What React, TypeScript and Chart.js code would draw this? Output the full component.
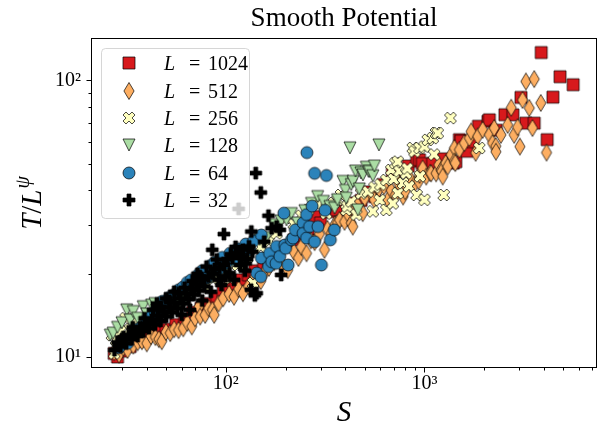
import React, { useEffect, useRef } from "react";
import { Chart, registerables } from "chart.js";

Chart.register(...registerables);

const FONT = "'Liberation Serif', 'Times New Roman', serif";

const titleText = "Smooth Potential";
const xTitle = "S";
const legendLabels = ["1024", "512", "256", "128", "64", "32"];
const fillColors = ["#d7191c", "#fdae61", "#ffffbf", "#abdda4", "#2b83ba", "#000000"];
const markerKinds = ["s", "d", "X", "v", "o", "P"];

// [S, T/L^psi]
const L1024: number[][] = [
  [27.4, 10.3], [28.5, 10.0], [30, 10.5], [33, 10.9], [36, 11.4], [40, 11.9], [45, 12.3], [50, 12.6],
  [56, 13.1], [62, 13.7], [68, 14.5], [75, 15.0], [82, 15.6], [90, 16.3], [97, 17.2], [104.5, 17.7],
  [112, 18.3], [120, 19.0], [130, 19.8], [140, 20.5], [155, 21.3], [165, 22.0], [180, 23.4], [200, 25.0],
  [220, 26.5], [240, 27.5], [260, 29.0], [280, 32.2], [300, 30.5], [330, 33.5], [360, 34.0], [409, 31.3],
  [440, 36.0], [480, 36.8], [520, 39.5], [560, 38.0], [620, 42.0], [690, 46.0], [707, 46.1], [760, 47.5],
  [830, 49.0], [914, 51.0], [944, 51.6], [976, 50.0], [1100, 50.0], [1250, 52.0], [1399, 50.2], [1440, 50.8],
  [1500, 61.0], [1529, 60.3], [1636, 55.4], [1750, 60.0], [1871, 68.2], [2089, 71.1], [2123, 72.0],
  [2300, 66.0], [2542, 75.1], [2790, 75.0], [3062, 86.7], [3243, 70.0], [3572, 70.0], [3873, 126],
  [4150, 61.0], [4437, 86.9], [4819, 103], [5610, 96.4],
];
const L512: number[][] = [
  [27.4, 10.4], [29, 10.2], [30.5, 10.8], [32, 10.6], [34.2, 11.0], [36, 11.3], [37.8, 11.4], [40, 11.2],
  [42, 11.9], [44.2, 11.8], [46, 11.6], [47.6, 11.4], [50, 12.3], [52.5, 12.2], [55, 12.6], [57.8, 12.5],
  [61.1, 12.7], [64, 13.3], [67.4, 12.9], [70, 13.8], [73.2, 15.2], [74.3, 14.0], [78.7, 14.2], [82, 15.0],
  [85.7, 14.8], [87.4, 14.2], [92, 15.6], [97, 16.3], [104, 16.9], [110, 16.5], [116, 17.6], [122, 17.0],
  [130, 18.0], [140, 19.5], [150, 18.8], [158, 20.4], [165, 21.0], [175, 22.0], [180, 22.5], [192, 21.6],
  [205, 20.6], [220, 24.0], [232, 22.8], [240, 25.0], [255, 23.7], [268, 26.4], [280, 26.0], [296, 27.8],
  [314, 24.4], [325, 29.0], [340, 28.0], [355, 30.2], [365, 30.5], [374, 31.3], [396, 30.8], [410, 33.0],
  [428, 30.5], [436, 29.6], [437, 34.5], [460, 35.5], [489, 33.1], [500, 37.5], [540, 39.0], [559, 37.0],
  [590, 40.5], [625, 41.4], [654, 37.0], [680, 40.0], [714, 38.5], [740, 42.5], [781, 38.0], [800, 39.7],
  [850, 44.0], [890, 42.0], [935, 43.2], [945, 45.5], [980, 48.0], [1021, 44.9], [1069, 46.3], [1081, 46.1],
  [1145, 46.1], [1180, 49.5], [1213, 47.4], [1222, 46.9], [1236, 44.9], [1279, 50.2], [1310, 48.8],
  [1363, 53.8], [1416, 56.9], [1416, 50.9], [1430, 50.2], [1500, 56.1], [1589, 59.3], [1684, 61.8],
  [1718, 65.3], [1811, 54.7], [1854, 62.7], [1965, 66.2], [2123, 63.5], [2203, 59.3], [2247, 67.2],
  [2287, 57.8], [2291, 55.2], [2428, 63.5], [2624, 69.0], [2735, 79.6], [2831, 63.5], [2945, 67.7],
  [3025, 57.6], [3119, 84.9], [3243, 99.0], [3373, 79.4], [3499, 67.2], [3572, 101], [3855, 82.8], [4121, 54.8],
];
const L256: number[][] = [
  [26.7, 12.0], [27.4, 10.3], [28, 11.5], [29.5, 12.4], [31.3, 13.8], [33, 12.6], [36, 13.2], [40, 13.3],
  [45, 14.2], [50, 14.8], [56, 15.6], [63, 16.6], [70, 17.6], [78, 18.0], [86, 19.2], [95, 19.8], [105, 19.2],
  [115, 21.5], [128, 22.8], [137, 18.5], [150, 25.0], [165, 26.2], [180, 28.0], [200, 31.8], [220, 30.2],
  [240, 32.4], [260, 34.0], [290, 35.5], [320, 33.0], [350, 36.0], [365, 37.0], [380, 38.5], [404, 34.0],
  [409, 35.0], [428, 36.5], [454, 32.7], [480, 39.0], [519, 39.6], [550, 33.6], [560, 41.0], [595, 36.9],
  [600, 42.0], [643, 43.6], [643, 34.0], [681, 47.4], [693, 35.9], [700, 44.0], [714, 50.2], [734, 39.1],
  [734, 50.8], [747, 46.9], [780, 42.5], [809, 46.1], [820, 48.0], [836, 41.4], [874, 56.9], [891, 55.3],
  [914, 38.5], [944, 56.9], [950, 45.0], [1000, 57.6], [1000, 37.0], [1040, 60.9], [1102, 61.8],
  [1119, 53.9], [1143, 64.5], [1167, 64.4], [1251, 38.5], [1352, 73.0], [1888, 56.9],
];
const L128: number[][] = [
  [26.2, 12.0], [27.1, 12.2], [28.5, 12.8], [30, 13.3], [31.7, 14.8], [33, 13.6], [34.2, 14.6], [36, 13.8],
  [38.4, 15.2], [40, 14.3], [42.3, 15.4], [44, 15.6], [47, 14.2], [50, 14.3], [54, 15.0], [58, 15.6],
  [62, 16.0], [67, 16.8], [72, 17.8], [78, 18.5], [85, 19.4], [92, 20.4], [100, 21.0], [108, 22.2],
  [116, 23.0], [125, 24.0], [135, 25.2], [148, 26.6], [160, 27.0], [175, 30.1], [190, 31.0], [202, 31.3],
  [214, 33.0], [230, 30.5], [250, 33.8], [270, 35.9], [290, 38.0], [310, 36.5], [334, 35.0], [353, 34.5],
  [365, 37.0], [389, 43.1], [400, 40.0], [404, 37.5], [422, 57.0], [428, 42.0], [437, 43.1], [450, 47.0],
  [462, 34.0], [470, 40.5], [479, 46.3], [490, 45.5], [510, 48.5], [523, 46.9], [529, 46.8], [550, 45.2],
  [560, 49.0], [590, 58.4],
];
const L64: number[][] = [
  [29, 10.8], [30.5, 11.4], [32, 11.2], [34, 12.1], [36, 12.6], [38, 12.9], [40, 13.6], [42, 14.0],
  [44, 14.6], [46, 15.0], [48, 15.9], [50, 15.4], [52, 16.4], [55, 16.8], [58, 17.5], [61, 17.9],
  [64, 18.6], [67, 19.0], [70, 18.2], [73, 19.9], [76, 20.5], [80, 19.3], [84, 21.4], [88, 22.0],
  [92, 20.7], [96, 22.9], [100, 21.8], [105, 23.7], [110, 22.6], [115, 24.6], [120, 23.3], [126, 25.6],
  [132, 24.4], [138, 26.3], [143, 20.1], [150, 19.5], [151, 22.8], [151, 27.6], [164, 21.2], [166, 23.7],
  [170, 22.1], [179, 21.8], [180, 25.1], [187, 23.1], [196, 33.1], [198, 25.4], [200, 24.7], [206, 21.5],
  [214, 26.5], [218, 26.9], [224, 28.8], [245, 30.5], [245, 28.0], [255, 32.7], [255, 26.9], [256, 54.8],
  [264, 29.6], [272, 35.1], [280, 46.1], [280, 26.1], [291, 29.6], [303, 21.5], [316, 33.9], [321, 45.3],
  [336, 26.5], [352, 28.8],
];
const L32: number[][] = [
  [27.5, 10.6], [28.5, 11.3], [29.5, 10.9], [30, 11.6], [30.5, 11.8], [31.5, 11.2], [32.5, 12.0], [33.5, 11.6],
  [34, 12.8], [35, 12.3], [36, 11.9], [37, 12.8], [38.5, 12.4], [39, 13.8], [40, 13.2], [41, 12.7],
  [42.5, 13.6], [43, 14.8], [44, 13.1], [45, 15.6], [45.5, 14.1], [47, 13.5], [47, 15.2], [48.5, 14.6],
  [50, 14.0], [50, 16.3], [52, 15.1], [52, 16.0], [53.5, 14.5], [55, 15.7], [55, 17.2], [57, 15.0],
  [58, 17.0], [59, 16.3], [60, 14.2], [61, 15.6], [62, 17.8], [63, 17.0], [65, 16.2], [66, 14.8],
  [67, 17.6], [68, 18.8], [69, 16.8], [71, 18.3], [72, 20.0], [73, 17.4], [74, 19.6], [75, 19.1],
  [76, 16.0], [78, 18.0], [80, 21.2], [82, 19.5], [84, 17.2], [85.5, 24.4], [86, 20.0], [88, 20.8],
  [90, 22.5], [92, 19.0], [93, 21.0], [95, 18.2], [97.8, 27.8], [98, 21.5], [100, 19.6], [102, 22.6],
  [104.5, 20.1], [106, 23.5], [108, 22.8], [110, 19.0], [112, 25.0], [114, 23.7], [116, 34.3], [118, 21.5],
  [120, 23.0], [122, 24.4], [125, 20.5], [126, 21.8], [128, 22.6], [131, 25.1], [134, 17.5], [134.5, 28.4],
  [136, 24.0], [140, 16.7], [141.5, 46.2], [143, 17.0], [150, 39.3], [156, 26.1], [164, 32.4], [170, 29.2],
  [180, 29.6], [187, 28.8], [190, 19.8],
];
const seriesData = [L1024, L512, L256, L128, L64, L32];

const xTickValues = [30, 40, 50, 60, 70, 80, 90, 100, 200, 300, 400, 500, 600, 700, 800, 900, 1000, 2000, 3000, 4000, 5000, 6000, 7000];
const yTickValues = [10, 20, 30, 40, 50, 60, 70, 80, 90, 100];
const xMin = 21.2, xMax = 7310;
const yMin = 9.2, yMax = 141;

const SUP = ["\u2070", "\u00b9", "\u00b2", "\u00b3", "\u2074"];
function isPow10(v: number) {
  const l = Math.log10(v);
  return Math.abs(l - Math.round(l)) < 1e-6;
}
function powLabel(v: number) {
  return isPow10(v) ? "10" + SUP[Math.round(Math.log10(v))] : "";
}

const MS = 12;
function makeMarker(kind: string, fill: string): HTMLCanvasElement {
  const size = 22;
  const c = document.createElement("canvas");
  c.width = size;
  c.height = size;
  const g = c.getContext("2d")!;
  const cx = size / 2, cy = size / 2, h = MS / 2;
  g.beginPath();
  const poly = (pts: number[][]) => {
    pts.forEach((p, i) => (i === 0 ? g.moveTo(cx + p[0], cy + p[1]) : g.lineTo(cx + p[0], cy + p[1])));
    g.closePath();
  };
  if (kind === "s") g.rect(cx - h, cy - h, MS, MS);
  else if (kind === "d") {
    const hh = MS * 0.7071, hw = hh * 0.6;
    poly([[0, -hh], [hw, 0], [0, hh], [-hw, 0]]);
  } else if (kind === "o") g.arc(cx, cy, h, 0, Math.PI * 2);
  else if (kind === "v") poly([[-h, -h], [h, -h], [0, h]]);
  else if (kind === "X") {
    const u = [[0.25, 0], [0.5, 0.25], [0.75, 0], [1, 0.25], [0.75, 0.5], [1, 0.75], [0.75, 1], [0.5, 0.75], [0.25, 1], [0, 0.75], [0.25, 0.5], [0, 0.25]];
    poly(u.map((p) => [(p[0] - 0.5) * MS, (p[1] - 0.5) * MS]));
  } else if (kind === "P") {
    const u = [[-1, -3], [1, -3], [1, -1], [3, -1], [3, 1], [1, 1], [1, 3], [-1, 3], [-1, 1], [-3, 1], [-3, -1], [-1, -1]];
    poly(u.map((p) => [(p[0] / 6) * MS, (p[1] / 6) * MS]));
  }
  g.fillStyle = fill;
  g.fill();
  g.lineWidth = 0.7;
  g.strokeStyle = "#000";
  g.stroke();
  return c;
}

export default function App() {
  const ref = useRef<HTMLCanvasElement | null>(null);
  useEffect(() => {
    if (!ref.current) return;
    const markers = markerKinds.map((k, i) => makeMarker(k, fillColors[i]));

    const decorPlugin = {
      id: "decor",
      afterDatasetsDraw(chart: any) {
        const ctx = chart.ctx as CanvasRenderingContext2D;
        const a = chart.chartArea;
        const xs = chart.scales.x, ys = chart.scales.y;
        ctx.save();
        // legend box
        const bx = 101.5, by = 48.5, bw = 148, bh = 170, r = 4;
        ctx.beginPath();
        ctx.moveTo(bx + r, by);
        ctx.lineTo(bx + bw - r, by);
        ctx.arcTo(bx + bw, by, bx + bw, by + r, r);
        ctx.lineTo(bx + bw, by + bh - r);
        ctx.arcTo(bx + bw, by + bh, bx + bw - r, by + bh, r);
        ctx.lineTo(bx + r, by + bh);
        ctx.arcTo(bx, by + bh, bx, by + bh - r, r);
        ctx.lineTo(bx, by + r);
        ctx.arcTo(bx, by, bx + r, by, r);
        ctx.closePath();
        ctx.fillStyle = "rgba(255,255,255,0.8)";
        ctx.fill();
        ctx.strokeStyle = "rgba(204,204,204,0.8)";
        ctx.lineWidth = 1;
        ctx.stroke();
        for (let i = 0; i < legendLabels.length; i++) {
          const ry = 63.3 + i * 27.35;
          const m = markers[i];
          ctx.drawImage(m, Math.round(129 - m.width / 2), Math.round(ry - m.height / 2));
          ctx.fillStyle = "#000";
          ctx.textBaseline = "alphabetic";
          ctx.textAlign = "left";
          ctx.font = `italic 20px ${FONT}`;
          ctx.fillText("L", 164, ry + 7);
          ctx.font = `20px ${FONT}`;
          ctx.fillText("=", 189, ry + 7);
          ctx.fillText(legendLabels[i], 208, ry + 7);
        }
        // frame
        ctx.strokeStyle = "#000";
        ctx.lineWidth = 1;
        const L = Math.round(a.left) - 0.5, R = Math.round(a.right) + 0.5;
        const T = Math.round(a.top) - 0.5, B = Math.round(a.bottom) + 0.5;
        ctx.strokeRect(L, T, R - L, B - T);
        // ticks
        ctx.beginPath();
        xTickValues.forEach((v) => {
          const px = Math.round(xs.getPixelForValue(v)) + 0.5;
          const len = isPow10(v) ? 5 : 3;
          ctx.moveTo(px, B);
          ctx.lineTo(px, B + len);
        });
        yTickValues.forEach((v) => {
          const py = Math.round(ys.getPixelForValue(v)) + 0.5;
          const len = isPow10(v) ? 5 : 3;
          ctx.moveTo(L, py);
          ctx.lineTo(L - len, py);
        });
        ctx.stroke();
        // y axis label  T/L^psi
        ctx.translate(31, 203);
        ctx.rotate(-Math.PI / 2);
        ctx.fillStyle = "#000";
        ctx.textBaseline = "alphabetic";
        const big = `italic 29px ${FONT}`, up = `29px ${FONT}`, small = `italic 20px ${FONT}`;
        ctx.font = big;
        const wT = ctx.measureText("T").width;
        const wL = ctx.measureText("L").width;
        ctx.font = up;
        const wS = ctx.measureText("/").width;
        ctx.font = small;
        const wP = ctx.measureText("\u03c8").width;
        const total = wT + wS + wL + 1 + wP;
        let x = -total / 2;
        const base = 10;
        ctx.font = big;
        ctx.fillText("T", x, base);
        x += wT;
        ctx.font = up;
        ctx.fillText("/", x, base);
        x += wS;
        ctx.font = big;
        ctx.fillText("L", x, base);
        x += wL + 1;
        ctx.font = small;
        ctx.fillText("\u03c8", x, base - 12);
        ctx.restore();
      },
    };

    const datasets = seriesData.map((d, i) => ({
      label: "L = " + legendLabels[i],
      data: d.map((p) => ({ x: p[0], y: p[1] })),
      pointStyle: markers[i] as any,
      pointRadius: 6,
      showLine: false,
      order: seriesData.length - i,
    }));

    const tickFont = { family: FONT, size: 20 };
    const chart = new Chart(ref.current, {
      type: "scatter",
      data: { datasets },
      options: {
        animation: false,
        responsive: false,
        devicePixelRatio: 1,
        layout: { padding: { left: 0, right: 6, top: 0, bottom: 0 } },
        plugins: {
          legend: { display: false },
          tooltip: { enabled: false },
          title: {
            display: true,
            text: titleText,
            fullSize: false,
            color: "#000",
            font: { family: FONT, size: 27, weight: "normal", lineHeight: 1.1 },
            padding: { top: 4.5, bottom: 4.8 },
          },
        },
        scales: {
          x: {
            type: "logarithmic",
            position: "bottom",
            min: xMin,
            max: xMax,
            afterBuildTicks: (s: any) => {
              s.ticks = xTickValues.map((v) => ({ value: v }));
            },
            afterFit: (s: any) => {
              s.height = 61;
            },
            grid: { display: false, drawTicks: true, tickLength: 5 },
            border: { display: false },
            ticks: {
              autoSkip: false,
              maxRotation: 0,
              minRotation: 0,
              padding: 0,
              color: "#000",
              font: tickFont,
              callback: (v: any) => powLabel(Number(v)),
            },
            title: {
              display: true,
              text: xTitle,
              color: "#000",
              font: { family: FONT, size: 29, style: "italic", lineHeight: 1 },
              padding: { top: 0, bottom: 0 },
            },
          },
          y: {
            type: "logarithmic",
            position: "left",
            min: yMin,
            max: yMax,
            afterBuildTicks: (s: any) => {
              s.ticks = yTickValues.map((v) => ({ value: v }));
            },
            afterFit: (s: any) => {
              s.width = 92;
            },
            grid: { display: false, drawTicks: true, tickLength: 5 },
            border: { display: false },
            ticks: {
              autoSkip: false,
              padding: 6,
              color: "#000",
              font: tickFont,
              callback: (v: any) => powLabel(Number(v)),
            },
          },
        },
      } as any,
      plugins: [decorPlugin],
    });
    return () => chart.destroy();
  }, []);

  return (
    <div style={{ position: "fixed", left: 0, top: 0, width: 603, height: 428, background: "#fff" }}>
      <canvas ref={ref} width={603} height={428} style={{ display: "block" }} />
    </div>
  );
}
